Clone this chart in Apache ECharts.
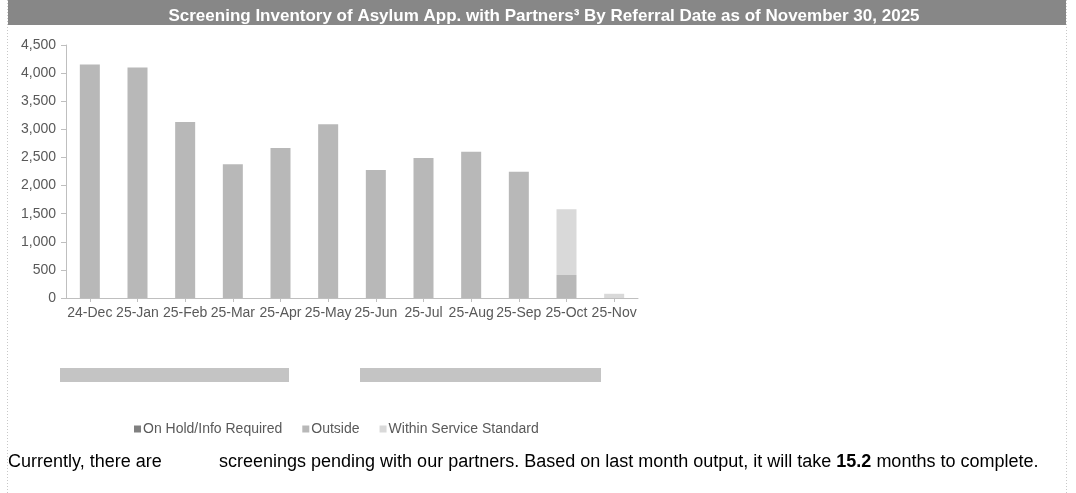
<!DOCTYPE html>
<html>
<head>
<meta charset="utf-8">
<script src="https://cdn.jsdelivr.net/npm/echarts@6/dist/echarts.min.js"></script>
<style>
  html, body { margin: 0; padding: 0; background: #fff; }
</style>
</head>
<body>
<div id="main" style="width:1076px;height:493px"></div>
<script>
var months = ["24-Dec", "25-Jan", "25-Feb", "25-Mar", "25-Apr", "25-May", "25-Jun", "25-Jul", "25-Aug", "25-Sep", "25-Oct", "25-Nov"];
var onHold = [0, 0, 0, 0, 0, 0, 0, 0, 0, 0, 0, 0];
var outside = [4155, 4100, 3130, 2380, 2670, 3090, 2275, 2490, 2600, 2245, 410, 0];
var withinStd = [0, 0, 0, 0, 0, 0, 0, 0, 0, 0, 1170, 75];
var yTicks = [0, 500, 1000, 1500, 2000, 2500, 3000, 3500, 4000, 4500];

var chartDom = document.getElementById("main");
var myChart = echarts.init(chartDom);
var font = "Arial, 'Liberation Sans', sans-serif";
var option = {
  animation: false,
  title: {
    text: "Screening Inventory of Asylum App. with Partners\u00B3 By Referral Date as of November 30, 2025",
    left: 539,
    textAlign: "center",
    top: 3,
    textStyle: { color: "#fff", fontSize: 17, fontWeight: "bold", fontFamily: font }
  },
  legend: {
    data: ["On Hold/Info Required", "Outside", "Within Service Standard"],
    left: 129,
    top: 417,
    icon: "rect",
    itemWidth: 7,
    itemHeight: 7,
    itemGap: 20,
    textStyle: { color: "#595959", fontSize: 14, fontFamily: font, padding: [0, 0, 0, -3] }
  },
  grid: { left: 66, right: 438, top: 45, bottom: 195 },
  xAxis: {
    type: "category",
    data: months,
    axisLine: { lineStyle: { color: "#bfbfbf" } },
    axisTick: { show: true, alignWithLabel: true, length: 4, lineStyle: { color: "#bfbfbf" } },
    axisLabel: { color: "#595959", fontSize: 14, fontFamily: font, margin: 8, interval: 0 }
  },
  yAxis: {
    type: "value",
    min: yTicks[0],
    max: yTicks[yTicks.length - 1],
    interval: 500,
    axisLine: { show: true, lineStyle: { color: "#bfbfbf" } },
    axisTick: { show: true, length: 5, lineStyle: { color: "#bfbfbf" } },
    splitLine: { show: false },
    axisLabel: {
      color: "#595959", fontSize: 14, fontFamily: font, margin: 10,
      formatter: function (v) { return v.toLocaleString("en-US"); }
    }
  },
  series: [
    { name: "On Hold/Info Required", type: "bar", stack: "total", barWidth: 20, data: onHold, itemStyle: { color: "#808080" } },
    { name: "Outside", type: "bar", stack: "total", barWidth: 20, data: outside, itemStyle: { color: "#b8b8b8" } },
    { name: "Within Service Standard", type: "bar", stack: "total", barWidth: 20, data: withinStd, itemStyle: { color: "#d9d9d9" } }
  ],
  graphic: [
    { type: "rect", z: -1, shape: { x: 8, y: 0, width: 1058, height: 25 }, style: { fill: "#878787" } },
    { type: "line", shape: { x1: 7.5, y1: 0, x2: 7.5, y2: 493 }, style: { stroke: "#c8c8c8", lineWidth: 1, lineDash: [1, 2] } },
    { type: "line", shape: { x1: 1066.5, y1: 0, x2: 1066.5, y2: 493 }, style: { stroke: "#c8c8c8", lineWidth: 1, lineDash: [1, 2] } },
    { type: "rect", shape: { x: 60, y: 368, width: 229, height: 14 }, style: { fill: "#c4c4c4" } },
    { type: "rect", shape: { x: 360, y: 368, width: 241, height: 14 }, style: { fill: "#c4c4c4" } },
    {
      type: "text", left: 8, top: 453,
      style: { text: "Currently, there are", fill: "#000", font: "18px " + font }
    },
    {
      type: "text", left: 219, top: 453,
      style: {
        text: "screenings pending with our partners. Based on last month output, it will take {b|15.2} months to complete.",
        fill: "#000", font: "18px " + font,
        rich: { b: { fontWeight: "bold", fontSize: 18, fontFamily: font, fill: "#000" } }
      }
    }
  ]
};
option && myChart.setOption(option);
</script>
</body>
</html>
